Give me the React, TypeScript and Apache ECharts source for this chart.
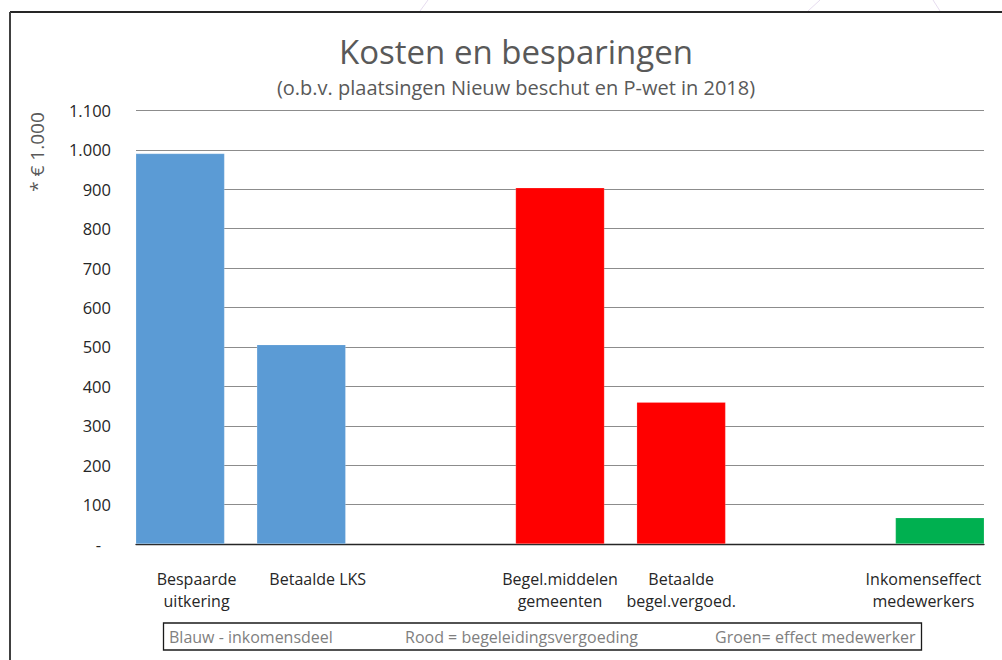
import React, { useEffect, useRef } from "react";
import * as echarts from "echarts";

const categories = [
  "Bespaarde\nuitkering",
  "Betaalde LKS",
  "",
  "Begel.middelen\ngemeenten",
  "Betaalde\nbegel.vergoed.",
  "",
  "Inkomenseffect\nmedewerkers",
];
const blauwValues = [991, 506, null, null, null, null, null];
const roodValues = [null, null, null, 904, 360, null, null];
const groenValues = [null, null, null, null, null, null, 67];
const legendTexts = [
  "Blauw - inkomensdeel",
  "Rood = begeleidingsvergoeding",
  "Groen= effect medewerker",
];
const titleText = "Kosten en besparingen";
const subtitleText = "(o.b.v. plaatsingen Nieuw beschut en P-wet in 2018)";
const yAxisTitle = "* € 1.000";

const FONT = "'Open Sans', 'Noto Sans', sans-serif";

function fmt(v: number): string {
  if (v === 0) return "{d|-}";
  return String(v).replace(/\B(?=(\d{3})+(?!\d))/g, ".");
}

export default function App() {
  const ref = useRef<HTMLDivElement>(null);
  useEffect(() => {
    if (!ref.current) return;
    const chart = echarts.init(ref.current, null, { renderer: "svg" });
    const barCommon = {
      type: "bar" as const,
      barWidth: 89,
      barGap: "-81.5%",
      itemStyle: { borderColor: "rgba(255,255,255,0.3)", borderWidth: 0.6 },
    };
    chart.setOption({
      animation: false,
      backgroundColor: "#ffffff",
      title: {
        text: titleText,
        subtext: subtitleText,
        left: 511,
        textAlign: "center",
        top: 28,
        itemGap: 6,
        textStyle: {
          fontFamily: FONT,
          fontSize: 33,
          fontWeight: "normal",
          color: "#595959",
          lineHeight: 36,
        },
        subtextStyle: {
          fontFamily: FONT,
          fontSize: 20,
          color: "#595959",
          lineHeight: 24,
        },
      },
      grid: { left: 136, right: 18, top: 110.5, bottom: 116, containLabel: false },
      xAxis: {
        type: "category",
        data: categories,
        axisLine: { show: true, lineStyle: { color: "#262626", width: 1.3 } },
        axisTick: { show: false },
        axisLabel: {
          interval: 0,
          margin: 24,
          fontFamily: FONT,
          fontSize: 16,
          color: "#262626",
          lineHeight: 22,
        },
      },
      yAxis: {
        type: "value",
        min: 0,
        max: 1100,
        interval: 100,
        axisLine: { show: false },
        axisTick: { show: false },
        splitLine: { show: true, lineStyle: { color: "#8c8c8c", width: 1.2 } },
        axisLabel: {
          margin: 25,
          fontFamily: FONT,
          fontSize: 16.5,
          color: "#262626",
          formatter: fmt,
          rich: { d: { fontFamily: FONT, fontSize: 16.5, color: "#262626", padding: [0, 10, 0, 0] } },
        },
      },
      series: [
        { ...barCommon, name: "Blauw", data: blauwValues, itemStyle: { ...barCommon.itemStyle, color: "#5b9bd5" } },
        { ...barCommon, name: "Rood", data: roodValues, itemStyle: { ...barCommon.itemStyle, color: "#ff0000" } },
        { ...barCommon, name: "Groen", data: groenValues, itemStyle: { ...barCommon.itemStyle, color: "#00b050" } },
      ],
      graphic: [
        { type: "line", shape: { x1: 420, y1: 11, x2: 428, y2: 0 }, style: { stroke: "#e6dcef", lineWidth: 1 }, silent: true },
        { type: "line", shape: { x1: 808, y1: 11, x2: 820, y2: 0 }, style: { stroke: "#e6dcef", lineWidth: 1 }, silent: true },
        { type: "line", shape: { x1: 940, y1: 11, x2: 933, y2: 0 }, style: { stroke: "#e6dcef", lineWidth: 1 }, silent: true },
        { type: "line", shape: { x1: 10, y1: 12, x2: 1002, y2: 12 }, style: { stroke: "#262626", lineWidth: 2 }, silent: true },
        { type: "line", shape: { x1: 10, y1: 12, x2: 10, y2: 660 }, style: { stroke: "#404040", lineWidth: 2 }, silent: true },
        {
          type: "text",
          x: 37,
          y: 152,
          rotation: Math.PI / 2,
          style: {
            text: yAxisTitle,
            fontFamily: FONT,
            fontSize: 19,
            fill: "#595959",
            align: "center",
            verticalAlign: "middle",
          },
        },
        {
          type: "rect",
          shape: { x: 163.5, y: 623, width: 758, height: 27 },
          style: { fill: "#ffffff", stroke: "#1a1a1a", lineWidth: 1.3 },
        },
        {
          type: "text",
          x: 169,
          y: 636.5,
          style: { text: legendTexts[0], fontFamily: FONT, fontSize: 16, fill: "#7f7f7f", align: "left", verticalAlign: "middle" },
        },
        {
          type: "text",
          x: 405,
          y: 636.5,
          style: { text: legendTexts[1], fontFamily: FONT, fontSize: 16, fill: "#7f7f7f", align: "left", verticalAlign: "middle" },
        },
        {
          type: "text",
          x: 715,
          y: 636.5,
          style: { text: legendTexts[2], fontFamily: FONT, fontSize: 16, fill: "#7f7f7f", align: "left", verticalAlign: "middle" },
        },
      ],
    });
    return () => chart.dispose();
  }, []);
  return (
    <div
      ref={ref}
      style={{ position: "fixed", left: 0, top: 0, width: 1002, height: 660, background: "#fff" }}
    />
  );
}
